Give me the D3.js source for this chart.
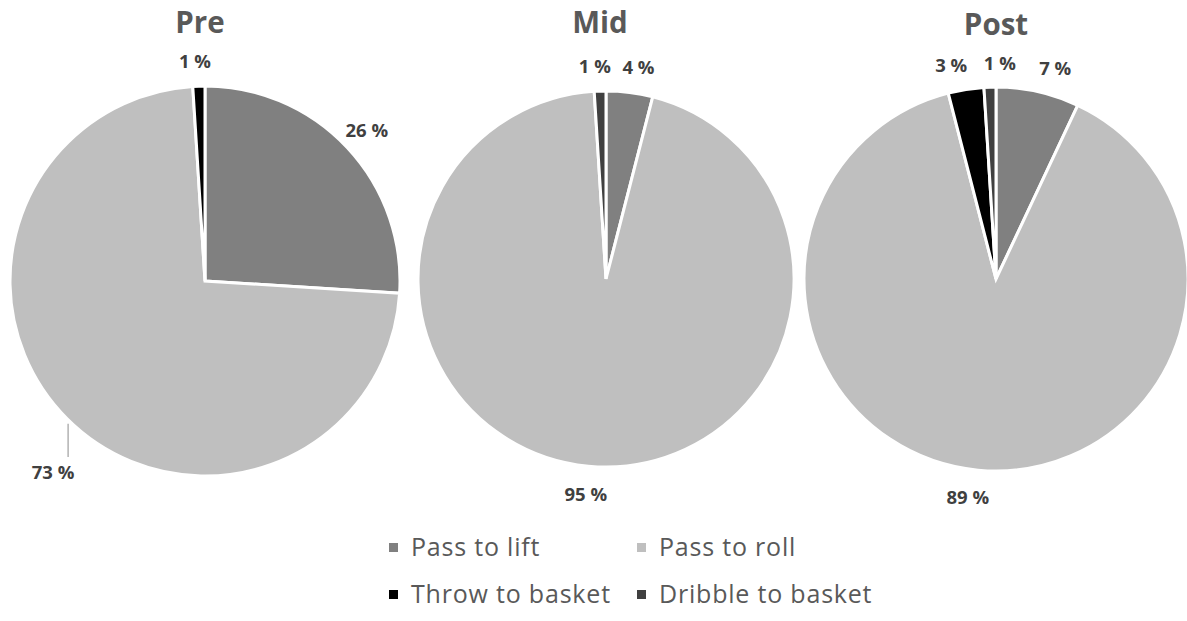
<!DOCTYPE html>
<html>
<head>
<meta charset="utf-8">
<script src="https://cdn.jsdelivr.net/npm/d3@7/dist/d3.min.js"></script>
<style>
  html, body { margin: 0; padding: 0; background: #ffffff; }
  svg { display: block; }
</style>
</head>
<body>
<svg id="chart" width="1187" height="621"></svg>
<script>
// Shot choice shares per phase (percent)
const categories = ["Pass to lift", "Pass to roll", "Throw to basket", "Dribble to basket"];
const phases = ["Pre", "Mid", "Post"];
const preValues  = [26, 73, 1, 0];
const midValues  = [4, 95, 0, 1];
const postValues = [7, 89, 3, 1];
const colors = ["#808080", "#bfbfbf", "#000000", "#404040"];

// Panel geometry
const panels = [
  { name: phases[0], values: preValues,  cx: 205, cy: 281, r: 195, titleX: 200, titleY: 33 },
  { name: phases[1], values: midValues,  cx: 606, cy: 279, r: 188, titleX: 600, titleY: 33 },
  { name: phases[2], values: postValues, cx: 996, cy: 279, r: 192, titleX: 996, titleY: 35 }
];

// Per-label nudges (degrees / pixels) so small neighbouring labels don't collide
const labelAdjust = {
  "Pre|Pass to roll": { dA: -6.5, dR: 22, leader: true },
  "Pre|Throw to basket": { dA: -0.8, dR: -1 },
  "Mid|Pass to lift": { dA: 1.5, dR: 0 },
  "Mid|Dribble to basket": { dA: -1.2, dR: -1 },
  "Post|Pass to lift": { dA: 3, dR: 1 },
  "Post|Throw to basket": { dA: -2.8, dR: 0 },
  "Post|Dribble to basket": { dA: 2.8, dR: -2 },
  "Post|Pass to roll": { dA: 2, dR: 0 }
};

const svg = d3.select("#chart");
const color = d3.scaleOrdinal().domain(categories).range(colors);
const pie = d3.pie().sort(null).value(d => d.value);

panels.forEach(p => {
  const data = categories.map((c, i) => ({ cat: c, value: p.values[i] }));
  const arcs = pie(data);
  const g = svg.append("g").attr("transform", `translate(${p.cx},${p.cy})`);
  const arc = d3.arc().innerRadius(0).outerRadius(p.r);

  g.selectAll("path")
    .data(arcs.filter(a => a.data.value > 0))
    .join("path")
    .attr("d", arc)
    .attr("fill", d => color(d.data.cat))
    .attr("stroke", "#ffffff")
    .attr("stroke-width", 3)
    .attr("stroke-linejoin", "miter");

  // Data labels around the rim
  arcs.filter(a => a.data.value > 0).forEach(a => {
    const adj = labelAdjust[p.name + "|" + a.data.cat] || { dA: 0, dR: 0 };
    const mid = (a.startAngle + a.endAngle) / 2 + adj.dA * Math.PI / 180;
    const dist = p.r + 27 + adj.dR;
    const x = Math.sin(mid) * dist;
    const y = -Math.cos(mid) * dist;
    if (adj.leader) {
      const lx = x + 15;
      const ly0 = Math.sqrt(Math.max(0, p.r * p.r - lx * lx)) + 4;
      g.append("line")
        .attr("x1", lx).attr("x2", lx)
        .attr("y1", ly0).attr("y2", y - 15)
        .attr("stroke", "#a6a6a6")
        .attr("stroke-width", 1.3);
    }
    g.append("text")
      .attr("x", x)
      .attr("y", y)
      .attr("text-anchor", "middle")
      .attr("dominant-baseline", "central")
      .attr("font-family", "'Open Sans', 'DejaVu Sans', sans-serif")
      .attr("font-weight", 700)
      .attr("font-size", 18.5)
      .attr("fill", "#404040")
      .text(d3.format(".0f")(a.data.value) + " %");
  });

  svg.append("text")
    .attr("x", p.titleX)
    .attr("y", p.titleY)
    .attr("text-anchor", "middle")
    .attr("font-family", "'Open Sans', 'DejaVu Sans', sans-serif")
    .attr("font-weight", 700)
    .attr("font-size", 29.5)
    .attr("fill", "#595959")
    .text(p.name);
});

// Legend: two rows of two entries
const legendCols = [389, 637];
const legendRows = [556, 603];
const legend = svg.append("g");
categories.forEach((c, i) => {
  const x = legendCols[i % 2];
  const y = legendRows[Math.floor(i / 2)];
  legend.append("rect")
    .attr("x", x).attr("y", y - 13)
    .attr("width", 9).attr("height", 9)
    .attr("fill", color(c));
  legend.append("text")
    .attr("x", x + 22)
    .attr("y", y)
    .attr("font-family", "'Open Sans', 'DejaVu Sans', sans-serif")
    .attr("font-size", 25)
    .attr("letter-spacing", 0.8)
    .attr("fill", "#595959")
    .text(c);
});
</script>
</body>
</html>
